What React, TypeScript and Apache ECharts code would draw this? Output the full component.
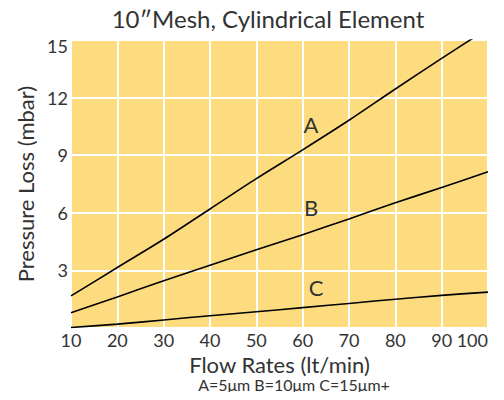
import React, { useEffect, useRef } from "react";
import * as echarts from "echarts";

const flowRates = [10, 20, 30, 40, 50, 60, 70, 80, 90, 100];
const seriesA = [1.67, 3.15, 4.62, 6.2, 7.78, 9.28, 10.82, 12.45, 14.04, 15.6];
const seriesB = [0.8, 1.62, 2.46, 3.27, 4.07, 4.86, 5.68, 6.52, 7.32, 8.14];
const seriesC = [0.03, 0.2, 0.42, 0.64, 0.85, 1.06, 1.28, 1.5, 1.7, 1.87];
const curveNames = ["A", "B", "C"];
const labelPositions = [
  [61.8, 10.6],
  [61.8, 6.27],
  [62.9, 2.12],
];

const FONT = "Lato";
const TEXT = "#333333";

export default function App() {
  const ref = useRef<HTMLDivElement>(null);
  useEffect(() => {
    if (!ref.current) return;
    const chart = echarts.init(ref.current, undefined, { renderer: "svg" });
    const all = [seriesA, seriesB, seriesC];
    chart.setOption({
      animation: false,
      backgroundColor: "#ffffff",
      title: [
        {
          text: "10\u2033Mesh, Cylindrical Element",
          left: 268,
          textAlign: "center",
          top: 6,
          padding: 0,
          textStyle: { fontFamily: FONT, fontSize: 24, fontWeight: "normal", color: TEXT },
        },
        {
          text: "A=5\u03bcm B=10\u03bcm C=15\u03bcm+",
          left: 294,
          textAlign: "center",
          top: 376,
          padding: 0,
          textStyle: { fontFamily: FONT, fontSize: 16, fontWeight: "normal", color: TEXT },
        },
      ],
      grid: {
        left: 71,
        right: 16,
        top: 40,
        bottom: 72,
        show: true,
        backgroundColor: "#FDDC80",
        borderWidth: 0,
      },
      xAxis: {
        type: "value",
        min: 10,
        max: 100,
        interval: 10,
        name: "Flow Rates (lt/min)",
        nameLocation: "middle",
        nameGap: 17,
        nameTextStyle: { fontFamily: FONT, fontSize: 22, lineHeight: 21, color: TEXT },
        axisLine: { show: false },
        axisTick: { show: false },
        axisLabel: {
          fontFamily: FONT,
          fontSize: 18,
          color: TEXT,
          margin: 3,
          alignMaxLabel: "right",
        },
        splitLine: { show: true, lineStyle: { color: "#ffffff", width: 2 } },
      },
      yAxis: {
        type: "value",
        min: 0,
        max: 15,
        interval: 3,
        name: "Pressure Loss (mbar)",
        nameLocation: "middle",
        nameGap: 31,
        nameRotate: 90,
        nameTextStyle: { fontFamily: FONT, fontSize: 22, color: TEXT },
        axisLine: { show: false },
        axisTick: { show: false },
        axisLabel: {
          fontFamily: FONT,
          fontSize: 18,
          color: TEXT,
          margin: 3,
          showMinLabel: false,
          formatter: (v: number) => (v === 15 ? "{top|15}" : String(v)),
          rich: { top: { fontFamily: FONT, fontSize: 18, color: TEXT, padding: [12, 0, 0, 0] } },
        },
        splitLine: { show: true, lineStyle: { color: "#ffffff", width: 2 } },
      },
      series: all.map((vals, i) => ({
        type: "line",
        name: curveNames[i],
        data: flowRates.map((x, j) => [x, vals[j]]),
        showSymbol: false,
        smooth: 0.3,
        clip: true,
        lineStyle: { color: "#000000", width: 1.6 },
        markPoint: {
          symbol: "circle",
          symbolSize: 1,
          itemStyle: { color: "rgba(0,0,0,0)" },
          label: {
            show: true,
            position: "inside",
            formatter: curveNames[i],
            fontFamily: FONT,
            fontSize: 22,
            color: TEXT,
          },
          data: [{ coord: labelPositions[i], value: curveNames[i] }],
        },
      })),
    });
    return () => chart.dispose();
  }, []);
  return <div ref={ref} style={{ width: 504, height: 400, margin: -8 }} />;
}
